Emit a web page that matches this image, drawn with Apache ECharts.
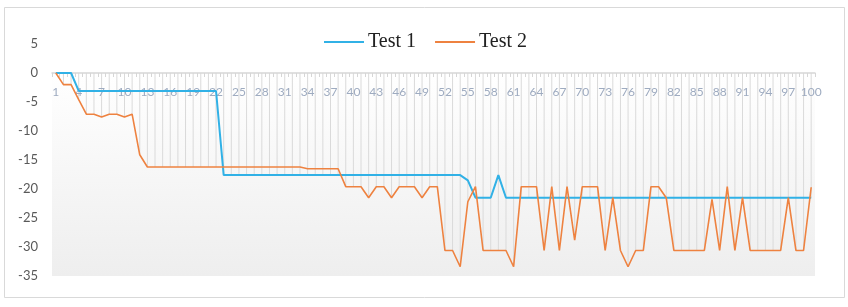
<!DOCTYPE html>
<html>
<head>
<meta charset="utf-8">
<script src="https://cdn.jsdelivr.net/npm/echarts@6/dist/echarts.min.js"></script>
<style>
html,body{margin:0;padding:0;background:#fff;}
#chart{width:848px;height:307px;}
</style>
</head>
<body>
<div id="chart"></div>
<script>
// Categories 1..100
const categories = [];
for (let i = 1; i <= 100; i++) categories.push(String(i));

const test1 = [
  0, 0, 0,
  -3.1, -3.1, -3.1, -3.1, -3.1, -3.1, -3.1, -3.1, -3.1, -3.1,
  -3.1, -3.1, -3.1, -3.1, -3.1, -3.1, -3.1, -3.1, -3.1,
  -17.6, -17.6, -17.6, -17.6, -17.6, -17.6, -17.6, -17.6, -17.6, -17.6,
  -17.6, -17.6, -17.6, -17.6, -17.6, -17.6, -17.6, -17.6, -17.6, -17.6,
  -17.6, -17.6, -17.6, -17.6, -17.6, -17.6, -17.6, -17.6, -17.6, -17.6,
  -17.6, -17.6,
  -18.5,
  -21.5, -21.5, -21.5,
  -17.6,
  -21.5, -21.5, -21.5, -21.5, -21.5, -21.5, -21.5, -21.5, -21.5, -21.5,
  -21.5, -21.5, -21.5, -21.5, -21.5, -21.5, -21.5, -21.5, -21.5, -21.5,
  -21.5, -21.5, -21.5, -21.5, -21.5, -21.5, -21.5, -21.5, -21.5, -21.5,
  -21.5, -21.5, -21.5, -21.5, -21.5, -21.5, -21.5, -21.5, -21.5, -21.5,
  -21.5
];

const test2 = [
  0, -2.0, -2.0, -4.6, -7.1, -7.1, -7.6, -7.1, -7.1, -7.6, -7.1, -14.1,
  -16.2, -16.2, -16.2, -16.2, -16.2, -16.2, -16.2, -16.2, -16.2, -16.2,
  -16.2, -16.2, -16.2, -16.2, -16.2, -16.2, -16.2, -16.2, -16.2, -16.2, -16.2,
  -16.5, -16.5, -16.5, -16.5, -16.5,
  -19.6, -19.6, -19.6,
  -21.5, -19.6, -19.6, -21.5, -19.6, -19.6, -19.6, -21.5, -19.6, -19.6,
  -30.6, -30.6, -33.4, -22.2, -19.6,
  -30.6, -30.6, -30.6, -30.6, -33.4,
  -19.6, -19.6, -19.6, -30.6, -19.6, -30.6, -19.6, -28.8,
  -19.6, -19.6, -19.6, -30.6, -21.5, -30.6, -33.4, -30.6, -30.6,
  -19.6, -19.6, -21.5,
  -30.6, -30.6, -30.6, -30.6, -30.6,
  -21.8, -30.6, -19.6, -30.6, -21.5,
  -30.6, -30.6, -30.6, -30.6, -30.6,
  -21.5, -30.6, -30.6, -19.7
];

const yMin = -35, yMax = 5, yStep = 5;

// drop lines: from each point to the axis (lowest of the two covers)
const dropLines = test1.map((v, i) => Math.min(v, test2[i]));

const gridTop = 44, gridBottom = 31, chartH = 307;
const plotH = chartH - gridTop - gridBottom;
// shift the category axis up from the bottom edge to the value 0
const zeroOffset = -plotH * (0 - yMin) / (yMax - yMin);

const chart = echarts.init(document.getElementById('chart'));
chart.setOption({
  animation: false,
  backgroundColor: '#ffffff',
  graphic: [{
    type: 'rect',
    shape: { x: 4.5, y: 7.5, width: 840, height: 290 },
    style: { fill: 'none', stroke: '#d9d9d9', lineWidth: 1 },
    z: -10
  }],
  grid: { left: 52, right: 33, top: gridTop, bottom: gridBottom },
  legend: {
    data: [
      { name: 'Test 1', icon: 'rect' },
      { name: 'Test 2', icon: 'rect' }
    ],
    left: 319,
    top: 27,
    itemWidth: 40,
    itemHeight: 2,
    itemGap: 19,
    textStyle: { fontFamily: 'Liberation Serif', fontSize: 20, color: '#222', lineHeight: 20, padding: [0, 0, 0, -1] }
  },
  xAxis: {
    type: 'category',
    data: categories,
    boundaryGap: true,
    position: 'bottom',
    offset: zeroOffset,
    z: 10,
    axisLine: { onZero: false, lineStyle: { color: '#d6d6d6', width: 1.5 } },
    axisTick: { show: true, interval: 0, length: 4, lineStyle: { color: '#d6d6d6' } },
    axisLabel: { interval: 2, margin: 13, color: '#9eabc0', fontFamily: 'Lato', fontSize: 12 },
    splitLine: { show: false }
  },
  yAxis: {
    type: 'value',
    min: yMin, max: yMax, interval: yStep,
    axisLine: { show: false },
    axisTick: { show: false },
    splitLine: { show: false },
    axisLabel: { margin: 14, color: '#595959', fontFamily: 'Lato', fontSize: 13 }
  },
  series: [
    {
      name: 'drop',
      type: 'bar',
      data: dropLines,
      barWidth: 1,
      itemStyle: { color: '#dadada' },
      silent: true,
      z: 1,
      markArea: {
        silent: true,
        itemStyle: {
          color: new echarts.graphic.LinearGradient(0, 0, 0, 1, [
            { offset: 0, color: '#ffffff' },
            { offset: 1, color: '#eeeeee' }
          ])
        },
        data: [[{ yAxis: 0 }, { yAxis: yMin }]]
      }
    },
    {
      name: 'Test 1',
      type: 'line',
      data: test1,
      symbol: 'none',
      lineStyle: { color: '#31b1e6', width: 2 },
      itemStyle: { color: '#31b1e6' },
      z: 12
    },
    {
      name: 'Test 2',
      type: 'line',
      data: test2,
      symbol: 'none',
      lineStyle: { color: '#ee8240', width: 1.6 },
      itemStyle: { color: '#ee8240' },
      z: 13
    }
  ]
});
</script>
</body>
</html>
